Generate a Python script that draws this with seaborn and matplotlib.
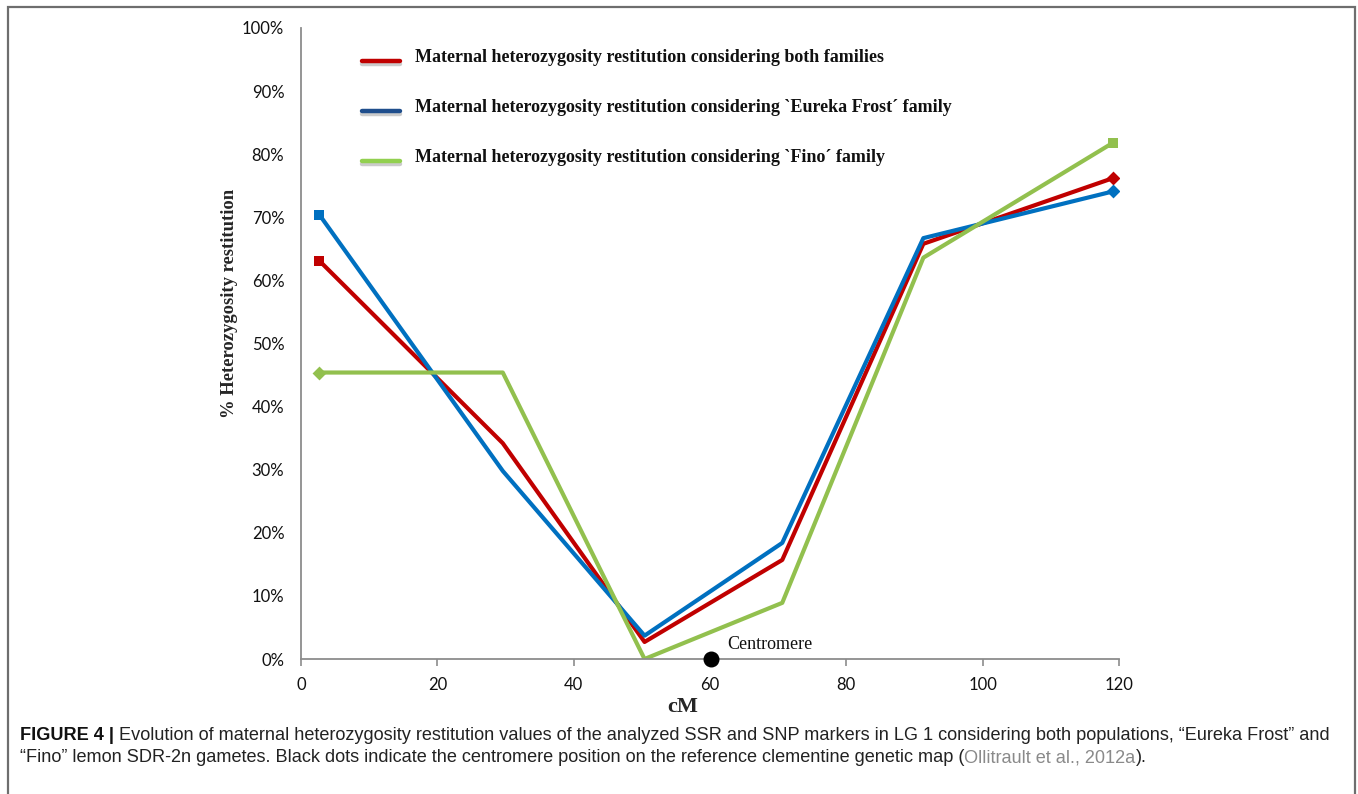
import numpy as np
import pandas as pd
import matplotlib
matplotlib.use("Agg")
import matplotlib.pyplot as plt
import seaborn as sns
from matplotlib.lines import Line2D
from matplotlib.patches import Rectangle
import matplotlib.patheffects as pe

# ---------------- data ----------------
cm_positions = [2.7, 29.6, 50.4, 70.6, 91.3, 119.1]
both_families = [63.1, 34.2, 2.7, 15.7, 65.8, 76.2]
eureka_frost = [70.4, 29.8, 3.7, 18.4, 66.7, 74.1]
fino = [45.4, 45.4, 0.0, 8.9, 63.6, 81.8]
series_names = [
    "Maternal heterozygosity restitution considering both families",
    "Maternal heterozygosity restitution considering `Eureka Frost´ family",
    "Maternal heterozygosity restitution considering `Fino´ family",
]
centromere_cm = [60.1]
centromere_val = [0.0]
x_ticks = [0, 20, 40, 60, 80, 100, 120]
y_ticks = [0, 10, 20, 30, 40, 50, 60, 70, 80, 90, 100]

line_colors = ["#C00000", "#0070C0", "#92C04E"]
legend_colors = ["#C00000", "#1F4E8C", "#92D050"]
start_markers = ["s", "s", "D"]
end_markers = ["D", "D", "s"]

df = pd.DataFrame({
    "cM": cm_positions * 3,
    "value": both_families + eureka_frost + fino,
    "series": [series_names[0]] * 6 + [series_names[1]] * 6 + [series_names[2]] * 6,
})

# ---------------- figure ----------------
sns.set_style("white")
W, H = 1358, 794
fig = plt.figure(figsize=(W / 100, H / 100), dpi=100)
ax = fig.add_axes([301 / W, 1 - 659 / H, (1119 - 301) / W, (659 - 28) / H])

sns.lineplot(data=df, x="cM", y="value", hue="series", palette=line_colors,
             sort=False, estimator=None, linewidth=3.0, ax=ax, legend=False)

for i, vals in enumerate([both_families, eureka_frost, fino]):
    ax.scatter([cm_positions[0]], [vals[0]], marker=start_markers[i], s=50,
               color=line_colors[i], zorder=4, linewidths=0)
    ax.scatter([cm_positions[-1]], [vals[-1]], marker=end_markers[i], s=50,
               color=line_colors[i], zorder=4, linewidths=0)

ax.scatter(centromere_cm, centromere_val, s=110, color="black", zorder=5, clip_on=False)
ax.text(62.6, 2.3, "Centromere", fontfamily="Liberation Serif", fontsize=13,
        va="center", ha="left", color="#111111")

ax.set_xlim(0, 120)
ax.set_ylim(0, 100)
ax.set_xticks(x_ticks)
ax.set_yticks(y_ticks)
ax.set_xticklabels([str(t) for t in x_ticks], fontfamily="Lato", fontsize=12)
ax.set_yticklabels([f"{t}%" for t in y_ticks], fontfamily="Lato", fontsize=12)
for s in ["top", "right"]:
    ax.spines[s].set_visible(False)
for s in ["left", "bottom"]:
    ax.spines[s].set_color("#8C8C8C")
    ax.spines[s].set_linewidth(1.3)
ax.tick_params(axis="x", length=5, width=1.2, color="#8C8C8C", direction="out",
               pad=8, labelcolor="#111111", bottom=True)
ax.tick_params(axis="y", length=0, pad=12, labelcolor="#111111")

ax.set_xlabel("cM", fontfamily="Liberation Serif", fontweight="bold", fontsize=16)
ax.xaxis.set_label_coords((683 - 301) / 818, -(697 - 659) / 631)
ax.set_ylabel("% Heterozygosity restitution", fontfamily="Liberation Serif",
              fontweight="bold", fontsize=13.4)
ax.yaxis.set_label_coords((238 - 301) / 818, (659 - 303) / 631)

# legend (manual, inside axes)
leg_y = [(659 - 61) / 631, (659 - 111) / 631, (659 - 161) / 631]
for i in range(3):
    ln = Line2D([(362 - 301) / 818, (400 - 301) / 818], [leg_y[i], leg_y[i]],
                transform=ax.transAxes, color=legend_colors[i], linewidth=3.2,
                path_effects=[pe.SimpleLineShadow(offset=(0, -2), shadow_color="#999999", alpha=0.5),
                              pe.Normal()])
    ax.add_line(ln)
    ax.text((415 - 301) / 818, leg_y[i] + 0.006, series_names[i], transform=ax.transAxes,
            fontfamily="Liberation Serif", fontweight="bold", fontsize=13,
            va="center", ha="left", color="#111111")

# border
fig.patches.append(Rectangle((7.5 / W, -0.05), (1355 - 7.5) / W, 1.05 - 6.5 / H,
                             transform=fig.transFigure, fill=False,
                             edgecolor="#6E6E6E", linewidth=1.6))

# caption
renderer = fig.canvas.get_renderer()
cap_fam = ["Liberation Sans Narrow", "Liberation Sans"]
line1 = [("FIGURE 4 | ", "bold", "#111111"),
         ("Evolution of maternal heterozygosity restitution values of the analyzed SSR and SNP markers "
          "in LG 1 considering both populations, \u201cEureka Frost\u201d and", "normal", "#222222")]
line2 = [("\u201cFino\u201d lemon SDR-2n gametes. Black dots indicate the centromere position on the "
          "reference clementine genetic map (", "normal", "#222222"),
         ("Ollitrault et al., 2012a", "normal", "#8A8A8A"),
         (").", "normal", "#222222")]

# fit font size to the reference line width
fs = 12.0
tmp = [fig.text(0, 0, t, fontfamily=cap_fam, fontweight=w, fontsize=fs) for t, w, c in line1]
wsum = sum(t.get_window_extent(renderer).width for t in tmp)
for t in tmp:
    t.remove()
fs = fs * (1318 / wsum)

def draw_line(parts, x0, y0):
    x = x0
    for txt, w, c in parts:
        t = fig.text(x / W, 1 - y0 / H, txt, fontfamily=cap_fam, fontweight=w,
                     fontsize=fs, color=c, va="center", ha="left")
        x += t.get_window_extent(renderer).width

draw_line(line1, 20, 735)
draw_line(line2, 20, 758)

fig.savefig("out.png", dpi=100)
